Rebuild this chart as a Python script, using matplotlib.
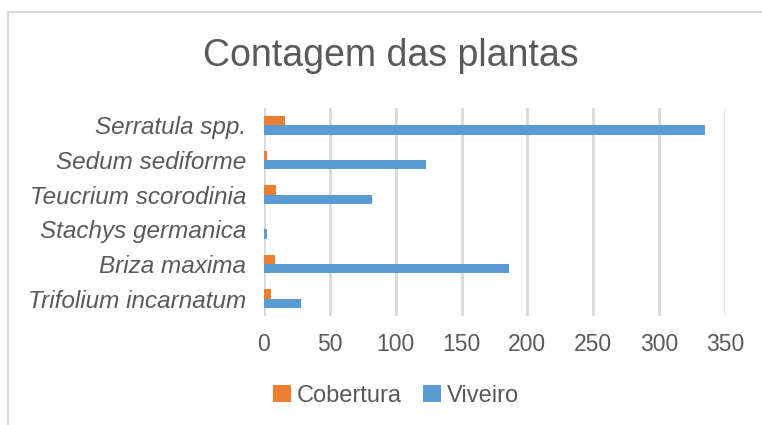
import matplotlib
matplotlib.use("Agg")
import matplotlib.pyplot as plt
from matplotlib.patches import Patch
from matplotlib.lines import Line2D
import numpy as np

categories = ["Trifolium incarnatum", "Briza maxima", "Stachys germanica",
              "Teucrium scorodinia", "Sedum sediforme", "Serratula spp."]
cobertura = [5, 8, 0, 9, 2, 16]
viveiro = [28, 186, 2, 82, 123, 335]
xticks = [0, 50, 100, 150, 200, 250, 300, 350]

plt.rcParams['font.family'] = ['Liberation Sans', 'DejaVu Sans']
TXT = '#595959'
ORANGE = '#ED7D31'
BLUE = '#5B9BD5'
GRID = '#D9D9D9'

W, H = 762, 425
fig = plt.figure(figsize=(W / 100, H / 100), dpi=100)
ax = fig.add_axes([264 / W, 1 - 316 / H, (725 - 264) / W, (316 - 108) / H])

y = np.arange(len(categories))
h = 0.27
ax.barh(y + h / 2, cobertura, height=h, color=ORANGE, label='Cobertura', zorder=3)
ax.barh(y - h / 2, viveiro, height=h, color=BLUE, label='Viveiro', zorder=3)

ax.set_xlim(0, 350)
ax.set_ylim(-0.5, len(categories) - 0.5)
ax.set_xticks(xticks)
ax.set_xticklabels([str(v) for v in xticks], fontsize=16.5, color=TXT)
ax.set_yticks(y)
ax.set_yticklabels(categories, fontsize=17.5, color=TXT, style='italic')
ax.tick_params(axis='both', length=0)
ax.tick_params(axis='x', pad=12)
ax.tick_params(axis='y', pad=13)
for s in ax.spines.values():
    s.set_visible(False)
ax.grid(axis='x', color=GRID, linewidth=2, zorder=0)
ax.set_axisbelow(True)

fig.text(391 / W, 1 - 56 / H, 'Contagem das plantas', ha='center', va='center',
         fontsize=27, color=TXT)

handles = [Patch(facecolor=ORANGE, label='Cobertura'), Patch(facecolor=BLUE, label='Viveiro')]
fig.legend(handles=handles, loc='center', bbox_to_anchor=(396 / W, 1 - 396 / H), ncol=2,
           frameon=False, fontsize=17, labelcolor=TXT, handlelength=0.75, handleheight=0.75,
           handletextpad=0.25, columnspacing=0.9)

# chart border (top and left visible)
fig.add_artist(Line2D([8 / W, 1], [1 - 12 / H, 1 - 12 / H], color=GRID, linewidth=1.6,
                      transform=fig.transFigure))
fig.add_artist(Line2D([8 / W, 8 / W], [0, 1 - 12 / H], color=GRID, linewidth=1.6,
                      transform=fig.transFigure))

fig.savefig('out.png', dpi=100)
